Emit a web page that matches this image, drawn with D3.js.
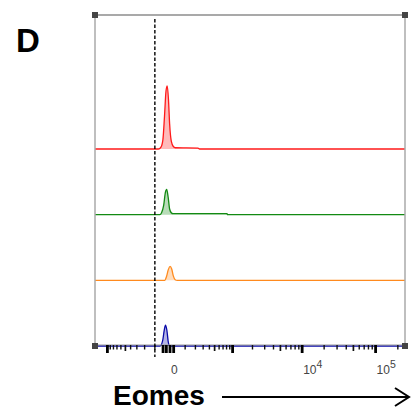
<!DOCTYPE html>
<html><head><meta charset="utf-8">
<script src="https://cdn.jsdelivr.net/npm/d3@7"></script>
<style>html,body{margin:0;padding:0;background:#fff;}svg{display:block;}</style>
</head><body>
<svg id="chart" width="411" height="412"></svg>
<script>
// ---- data (fluorescence value, relative count) ----
const seriesNames = ["blue", "orange", "green", "red"];
const seriesColors = ["#0a0aa8", "#ff8a1e", "#138a13", "#ff1a1a"];
const redX   = [-1550, -72, -54, -41, -31, -22, -15, -8, -2, 7, 18, 30, 231, 250, 250000];
const redY   = [0, 0, 3, 15, 52, 92, 100, 78, 40, 12, 4, 2, 1.5, 0, 0];
const greenX = [-1550, -62, -50, -36, -26, -18, -10, -2, 7, 16, 815, 830, 250000];
const greenY = [0, 0, 3, 15, 35, 40, 28, 9, 3, 1.5, 1.5, 0, 0];
const orangeX = [-1550, -30, -19, -9, 0, 9, 18, 29, 42, 250000];
const orangeY = [0, 0, 6, 17, 22, 18, 7, 1, 0, 0];
const blueX  = [-1550, -60, -43, -32, -25, -17, -9, -2, 250000];
const blueY  = [0, 0, 8, 26, 33, 25, 6, 0, 0];
const gateValue = -100;
const majorTicks = [-1000, -40, -20, 0, 20, 1000, 10000, 100000];
const mediumTicks = [-500, 500, 5000, 50000];
const minorTicks = [-900, -800, -700, -600, -400, -300, -200, -100, 100, 200, 300, 400, 600, 700, 800, 900,
  2000, 3000, 4000, 6000, 7000, 8000, 9000, 20000, 30000, 40000, 60000, 70000, 80000, 90000, 200000];
const tickLabels = [{v: 0, base: "0", sup: ""}, {v: 10000, base: "10", sup: "4"}, {v: 100000, base: "10", sup: "5"}];
const xTitle = "Eomes";
const panelLabel = "D";

const seriesData = {
  red: redX.map((v, i) => [v, redY[i]]),
  green: greenX.map((v, i) => [v, greenY[i]]),
  orange: orangeX.map((v, i) => [v, orangeY[i]]),
  blue: blueX.map((v, i) => [v, blueY[i]])
};

// ---- layout ----
const L = 95, R = 405, T = 15, B = 346;
const svg = d3.select("#chart");
const x = d3.scaleSymlog().constant(166).domain([-1550, 250000]).range([L, R]);
const baseY = d3.scalePoint().domain(seriesNames).range([B, 149]);
const h = d3.scaleLinear().domain([0, 100]).range([0, 63]);

// histograms
seriesNames.forEach((name, i) => {
  const pts = seriesData[name];
  const b = baseY(name);
  const area = d3.area().x(d => x(d[0])).y0(b).y1(d => b - h(d[1])).curve(d3.curveMonotoneX);
  const line = d3.line().x(d => x(d[0])).y(d => b - h(d[1])).curve(d3.curveMonotoneX);
  svg.append("path").attr("d", area(pts)).attr("fill", seriesColors[i]).attr("fill-opacity", 0.3);
  svg.append("path").attr("d", line(pts)).attr("fill", "none").attr("stroke", seriesColors[i]).attr("stroke-width", 1.3);
});

// frame
svg.append("line").attr("x1", L).attr("x2", R).attr("y1", T).attr("y2", T).attr("stroke", "#555").attr("stroke-width", 1.2);
svg.append("line").attr("x1", L).attr("x2", L).attr("y1", T).attr("y2", B).attr("stroke", "#aaa").attr("stroke-width", 1.5);
svg.append("line").attr("x1", R).attr("x2", R).attr("y1", T).attr("y2", B).attr("stroke", "#aaa").attr("stroke-width", 1.5);
svg.append("line").attr("x1", L).attr("x2", R).attr("y1", B - 1).attr("y2", B - 1).attr("stroke", "#999").attr("stroke-width", 1);

// ticks
const tg = svg.append("g");
minorTicks.forEach(v => tg.append("line").attr("x1", x(v)).attr("x2", x(v)).attr("y1", B - 1).attr("y2", B + 3.5).attr("stroke", "#111").attr("stroke-width", 1.4));
mediumTicks.forEach(v => tg.append("line").attr("x1", x(v)).attr("x2", x(v)).attr("y1", B - 1).attr("y2", B + 5).attr("stroke", "#111").attr("stroke-width", 1.7));
majorTicks.forEach(v => tg.append("line").attr("x1", x(v)).attr("x2", x(v)).attr("y1", B - 1).attr("y2", B + 7).attr("stroke", "#000").attr("stroke-width", 2.8));

// corner squares
[[L, T], [R, T], [L, B], [R, B]].forEach(([cx, cy]) =>
  svg.append("rect").attr("x", cx - 3).attr("y", cy - 3).attr("width", 6).attr("height", 6).attr("fill", "#444"));

// tick labels
tickLabels.forEach(t => {
  const txt = svg.append("text").attr("x", x(t.v) + 1).attr("y", 374)
    .attr("font-family", "Liberation Sans, Arial, sans-serif").attr("font-size", 12).attr("fill", "#444")
    .attr("text-anchor", "start");
  txt.append("tspan").text(t.base);
  if (t.sup) txt.append("tspan").attr("dy", -6).attr("font-size", 10.5).text(t.sup);
});

// gate dashed line
svg.append("line").attr("x1", x(gateValue)).attr("x2", x(gateValue)).attr("y1", 19).attr("y2", 357)
  .attr("stroke", "#000").attr("stroke-width", 1.4).attr("stroke-dasharray", "3.5,2");

// axis title & arrow
svg.append("text").attr("x", 113).attr("y", 405).text(xTitle)
  .attr("font-family", "Liberation Sans, Arial, sans-serif").attr("font-weight", "bold").attr("font-size", 28).attr("fill", "#000");
svg.append("line").attr("x1", 222).attr("x2", 409).attr("y1", 397).attr("y2", 397).attr("stroke", "#000").attr("stroke-width", 2);
svg.append("path").attr("d", "M395,388 L409,397 L395,406").attr("fill", "none").attr("stroke", "#000").attr("stroke-width", 2);

// panel label
svg.append("text").attr("x", 16).attr("y", 52).text(panelLabel)
  .attr("font-family", "Liberation Sans, Arial, sans-serif").attr("font-weight", "bold").attr("font-size", 33).attr("fill", "#000");
</script>
</body></html>
